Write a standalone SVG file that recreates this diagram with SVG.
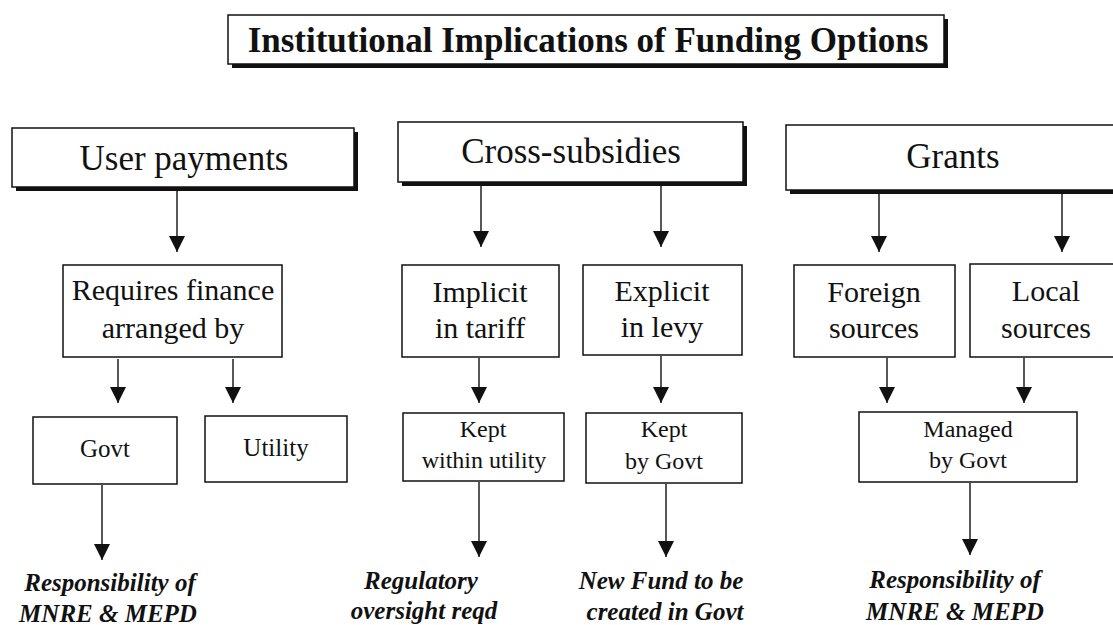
<svg xmlns="http://www.w3.org/2000/svg" width="1113" height="625" viewBox="0 0 1113 625">
  <style>
    .box { fill: #fff; stroke: #111; stroke-width: 1.5; }
    .shadow { fill: #111; }
    .t { font-family: "Liberation Serif", "Times New Roman", serif; fill: #111; text-anchor: middle; }
    .title { font-size: 35px; font-weight: bold; }
    .head { font-size: 35px; }
    .mid { font-size: 30px; }
    .small { font-size: 24px; }
    .note { font-size: 25px; font-weight: bold; font-style: italic; }
    .conn line { stroke: #111; stroke-width: 1.4; marker-end: url(#arrow); }
  </style>
  <defs>
    <marker id="arrow" markerUnits="userSpaceOnUse" markerWidth="17" markerHeight="17" refX="16" refY="8" orient="auto">
      <path d="M0,0 L16,8 L0,16 Z" fill="#111"/>
    </marker>
  </defs>
  <rect width="1113" height="625" fill="#fff"/>

  <!-- Title -->
  <g id="title">
    <rect class="shadow" x="232" y="19" width="716" height="49"/>
    <rect class="box" x="228" y="15" width="716" height="49"/>
    <text class="t title" x="588" y="52">Institutional Implications of Funding Options</text>
  </g>

  <!-- Column 1: user payments -->
  <g id="user-payments">
    <rect class="shadow" x="16" y="132" width="342" height="59"/>
    <rect class="box" x="12" y="128" width="342" height="59"/>
    <text class="t head" x="184" y="170">User payments</text>
  </g>
  <g id="requires-finance">
    <rect class="box" x="63" y="265" width="219" height="92"/>
    <text class="t mid" x="173" y="300">Requires finance</text>
    <text class="t mid" x="173" y="338">arranged by</text>
  </g>
  <g id="govt">
    <rect class="box" x="33" y="417" width="144" height="67"/>
    <text class="t small" x="105" y="457" style="font-size:25px">Govt</text>
  </g>
  <g id="utility">
    <rect class="box" x="205" y="416" width="142" height="66"/>
    <text class="t small" x="276" y="456" style="font-size:25px">Utility</text>
  </g>
  <g id="resp-left">
    <text class="t note" x="110" y="591">Responsibility of</text>
    <text class="t note" x="108" y="622">MNRE &amp; MEPD</text>
  </g>

  <!-- Column 2: cross-subsidies -->
  <g id="cross-subsidies">
    <rect class="shadow" x="402" y="126" width="345" height="60"/>
    <rect class="box" x="398" y="122" width="345" height="60"/>
    <text class="t head" x="571" y="163">Cross-subsidies</text>
  </g>
  <g id="implicit">
    <rect class="box" x="402" y="265" width="157" height="92"/>
    <text class="t mid" x="480" y="302">Implicit</text>
    <text class="t mid" x="480" y="338">in tariff</text>
  </g>
  <g id="explicit">
    <rect class="box" x="583" y="265" width="159" height="90"/>
    <text class="t mid" x="662" y="301">Explicit</text>
    <text class="t mid" x="662" y="337">in levy</text>
  </g>
  <g id="kept-utility">
    <rect class="box" x="403" y="413" width="161" height="68"/>
    <text class="t small" x="483" y="437">Kept</text>
    <text class="t small" x="484" y="468">within utility</text>
  </g>
  <g id="kept-govt">
    <rect class="box" x="586" y="413" width="156" height="70"/>
    <text class="t small" x="664" y="437">Kept</text>
    <text class="t small" x="664" y="469">by Govt</text>
  </g>
  <g id="regulatory">
    <text class="t note" x="421" y="589">Regulatory</text>
    <text class="t note" x="424" y="619">oversight reqd</text>
  </g>
  <g id="new-fund">
    <text class="t note" x="661" y="589">New Fund to be</text>
    <text class="t note" x="665" y="620">created in Govt</text>
  </g>

  <!-- Column 3: grants -->
  <g id="grants">
    <rect class="shadow" x="790" y="129" width="334" height="65"/>
    <rect class="box" x="786" y="125" width="334" height="65"/>
    <text class="t head" x="953" y="168">Grants</text>
  </g>
  <g id="foreign">
    <rect class="box" x="794" y="265" width="161" height="92"/>
    <text class="t mid" x="874" y="302">Foreign</text>
    <text class="t mid" x="874" y="338">sources</text>
  </g>
  <g id="local">
    <rect class="box" x="970" y="264" width="152" height="93"/>
    <text class="t mid" x="1046" y="301">Local</text>
    <text class="t mid" x="1046" y="338">sources</text>
  </g>
  <g id="managed">
    <rect class="box" x="859" y="412" width="218" height="70"/>
    <text class="t small" x="968" y="437">Managed</text>
    <text class="t small" x="968" y="468">by Govt</text>
  </g>
  <g id="resp-right">
    <text class="t note" x="955" y="588">Responsibility of</text>
    <text class="t note" x="955" y="620">MNRE &amp; MEPD</text>
  </g>

  <!-- Connectors -->
  <g id="connectors" class="conn">
    <line x1="177" y1="191" x2="177" y2="252"/>
    <line x1="118" y1="359" x2="118" y2="403"/>
    <line x1="233" y1="359" x2="233" y2="403"/>
    <line x1="102" y1="485" x2="102" y2="560"/>

    <line x1="481" y1="186" x2="481" y2="247"/>
    <line x1="661" y1="186" x2="661" y2="247"/>
    <line x1="479" y1="358" x2="479" y2="403"/>
    <line x1="661" y1="356" x2="661" y2="403"/>
    <line x1="479" y1="482" x2="479" y2="557"/>
    <line x1="666" y1="484" x2="666" y2="557"/>

    <line x1="879" y1="194" x2="879" y2="252"/>
    <line x1="1062" y1="194" x2="1062" y2="252"/>
    <line x1="887" y1="358" x2="887" y2="403"/>
    <line x1="1024" y1="358" x2="1024" y2="403"/>
    <line x1="970" y1="483" x2="970" y2="555"/>
  </g>
</svg>
